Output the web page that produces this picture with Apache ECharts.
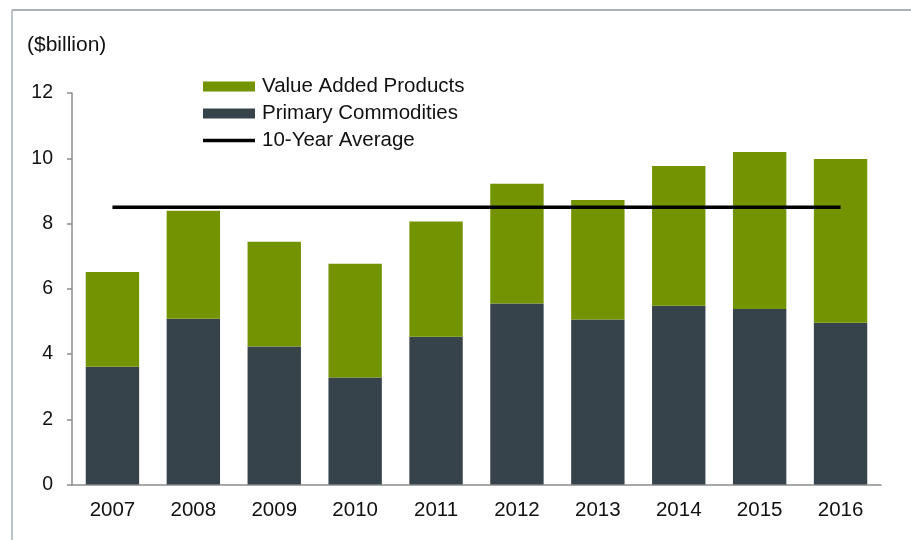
<!DOCTYPE html>
<html>
<head>
<meta charset="utf-8">
<script src="https://cdn.jsdelivr.net/npm/echarts@6/dist/echarts.min.js"></script>
<style>
  html, body { margin: 0; padding: 0; background: #fff; }
  #chart { width: 911px; height: 540px; }
</style>
</head>
<body>
<div id="chart"></div>
<script>
// values ($billion)
const years = ['2007', '2008', '2009', '2010', '2011', '2012', '2013', '2014', '2015', '2016']
const primaryCommodities = [3.61, 5.08, 4.23, 3.28, 4.53, 5.55, 5.06, 5.48, 5.38, 4.96]
const valueAdded = [2.90, 3.31, 3.21, 3.49, 3.53, 3.67, 3.66, 4.28, 4.81, 5.02]
const tenYearAvg = [8.5, 8.5, 8.5, 8.5, 8.5, 8.5, 8.5, 8.5, 8.5, 8.5]

const green = '#739400'
const dark = '#36434b'
const axisGray = '#8c8c8c'
const font = 'Liberation Sans, Arial, sans-serif'

const chart = echarts.init(document.getElementById('chart'))

const legendText = { fontSize: 20.5, color: '#111', lineHeight: 20, padding: [0, 0, 0, 2] }

const option = {
  animation: false,
  textStyle: { fontFamily: font },
  grid: { left: 72, right: 30, top: 93, bottom: 55.5 },
  graphic: [
    // frame lines at top and left
    { type: 'line', shape: { x1: 12, y1: 10, x2: 911, y2: 10 }, style: { stroke: '#8e979d', lineWidth: 1.5 } },
    { type: 'line', shape: { x1: 12, y1: 10, x2: 12, y2: 540 }, style: { stroke: '#a9b1b6', lineWidth: 1.5 } },
    { type: 'text', left: 27, top: 35, style: { text: '($billion)', font: '21px ' + font, fill: '#111' } }
  ],
  legend: [
    {
      orient: 'vertical',
      left: 198,
      top: 71,
      itemWidth: 52,
      itemHeight: 10,
      itemGap: 6,
      textStyle: legendText,
      data: [
        { name: 'Value Added Products', icon: 'rect' },
        { name: 'Primary Commodities', icon: 'rect' }
      ]
    },
    {
      left: 198,
      top: 125,
      itemWidth: 52,
      itemHeight: 3.5,
      textStyle: legendText,
      data: [{ name: '10-Year Average', icon: 'rect' }]
    }
  ],
  xAxis: {
    type: 'category',
    data: years,
    axisLine: { lineStyle: { color: axisGray, width: 1.5 } },
    axisTick: { length: 5, lineStyle: { color: axisGray, width: 1.5 } },
    axisLabel: { color: '#111', fontSize: 20.5, margin: 15 }
  },
  yAxis: {
    type: 'value',
    min: 0,
    max: 12,
    interval: 2,
    splitLine: { show: false },
    axisLine: { show: true, lineStyle: { color: axisGray, width: 1.5 } },
    axisTick: { show: true, length: 5, lineStyle: { color: axisGray, width: 1.5 } },
    axisLabel: { color: '#111', fontSize: 19.5, margin: 19 }
  },
  series: [
    {
      name: 'Primary Commodities',
      type: 'bar',
      stack: 'total',
      barWidth: '66%',
      itemStyle: { color: dark },
      data: primaryCommodities
    },
    {
      name: 'Value Added Products',
      type: 'bar',
      stack: 'total',
      barWidth: '66%',
      itemStyle: { color: green },
      data: valueAdded
    },
    {
      name: '10-Year Average',
      type: 'line',
      symbol: 'none',
      z: 5,
      lineStyle: { color: '#000', width: 3.5 },
      itemStyle: { color: '#000' },
      data: tenYearAvg
    }
  ]
}

chart.setOption(option)
</script>
</body>
</html>
